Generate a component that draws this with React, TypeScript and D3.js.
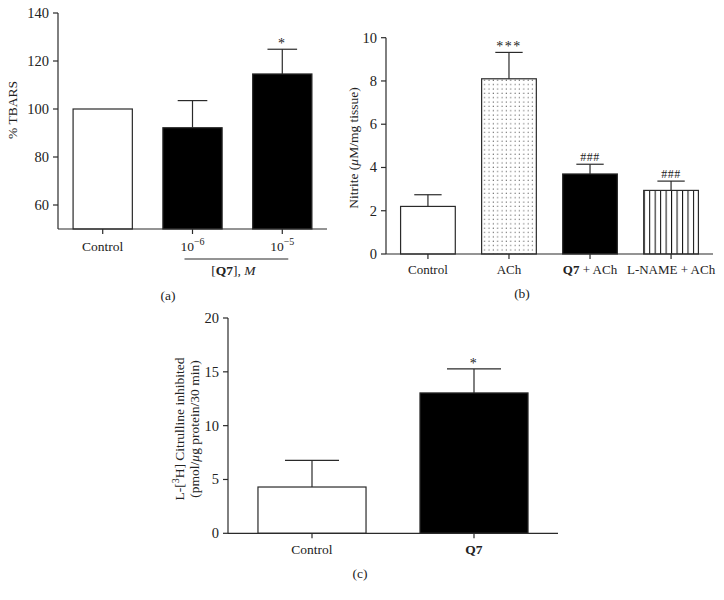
import React from "react";
import * as d3 from "d3";

// ---------- data ----------
const aCategories = ["Control", "1e-6", "1e-5"];
const aValues = [100, 92.2, 114.6];
const aErrors = [0, 11.3, 10.3];
const aSig = ["", "", "*"];
const aTicks = [60, 80, 100, 120, 140];

const bCategories = ["Control", "ACh", "Q7 + ACh", "L-NAME + ACh"];
const bValues = [2.2, 8.1, 3.7, 2.94];
const bErrors = [0.54, 1.22, 0.45, 0.43];
const bSig = ["", "***", "###", "###"];
const bTicks = [0, 2, 4, 6, 8, 10];

const cCategories = ["Control", "Q7"];
const cValues = [4.3, 13.04];
const cErrors = [2.48, 2.23];
const cSig = ["", "*"];
const cTicks = [0, 5, 10, 15, 20];

const FONT = "'Liberation Serif', 'Times New Roman', serif";
const LINE = "#2a2a2a";
const FS = 13.5;
const TFS = 14.5;

type Cfg = {
  cats: string[];
  vals: number[];
  errs: number[];
  sig: string[];
  ticks: number[];
  x0: number;
  x1: number;
  yTop: number;
  yBot: number;
  dom: [number, number];
  pIn: number;
  pOut: number;
  fills: string[];
  labelY: number;
  labelFs: number;
  renderLabel: (c: string) => React.ReactNode;
};

function Panel({ cfg }: { cfg: Cfg }) {
  const x = d3
    .scaleBand<string>()
    .domain(cfg.cats)
    .range([cfg.x0, cfg.x1])
    .paddingInner(cfg.pIn)
    .paddingOuter(cfg.pOut);
  const y = d3.scaleLinear().domain(cfg.dom).range([cfg.yBot, cfg.yTop]);
  const bw = x.bandwidth();
  return (
    <g>
      {cfg.cats.map((c, i) => (
        <rect
          key={"b" + c}
          x={x(c)!}
          y={y(cfg.vals[i])}
          width={bw}
          height={y(cfg.dom[0]) - y(cfg.vals[i])}
          fill={cfg.fills[i]}
          stroke={LINE}
          strokeWidth={1.2}
        />
      ))}
      {cfg.cats.map((c, i) => {
        if (!cfg.errs[i]) return null;
        const cx = x(c)! + bw / 2;
        const top = y(cfg.vals[i] + cfg.errs[i]);
        return (
          <g key={"e" + c} stroke={LINE} strokeWidth={1.2}>
            <line x1={cx} x2={cx} y1={y(cfg.vals[i])} y2={top} />
            <line x1={cx - bw / 4} x2={cx + bw / 4} y1={top} y2={top} />
          </g>
        );
      })}
      {cfg.cats.map((c, i) => {
        if (!cfg.sig[i]) return null;
        const cx = x(c)! + bw / 2;
        const top = y(cfg.vals[i] + (cfg.errs[i] || 0));
        const isStar = cfg.sig[i].startsWith("*");
        return (
          <text
            key={"s" + c}
            x={cx}
            y={isStar ? top - 1 : top - 3}
            textAnchor="middle"
            fontFamily={FONT}
            fontSize={isStar ? 14 : 12}
            letterSpacing={isStar ? 1.5 : 0.5}
            fill="#222"
          >
            {cfg.sig[i]}
          </text>
        );
      })}
      <line x1={cfg.x0} x2={cfg.x0} y1={cfg.yTop} y2={cfg.yBot} stroke={LINE} strokeWidth={1.2} />
      {cfg.ticks.map((t) => (
        <g key={"t" + t}>
          <line x1={cfg.x0 - 5} x2={cfg.x0} y1={y(t)} y2={y(t)} stroke={LINE} strokeWidth={1.2} />
          <text
            x={cfg.x0 - 9}
            y={y(t) + 5}
            textAnchor="end"
            fontFamily={FONT}
            fontSize={TFS}
            fill="#222"
          >
            {t}
          </text>
        </g>
      ))}
      <line x1={cfg.x0} x2={cfg.x1} y1={cfg.yBot} y2={cfg.yBot} stroke={LINE} strokeWidth={1.2} />
      {cfg.cats.map((c) => {
        const cx = x(c)! + bw / 2;
        return (
          <g key={"x" + c}>
            <line x1={cx} x2={cx} y1={cfg.yBot} y2={cfg.yBot + 5} stroke={LINE} strokeWidth={1.2} />
            <text
              x={cx}
              y={cfg.labelY}
              textAnchor="middle"
              fontFamily={FONT}
              fontSize={cfg.labelFs}
              fill="#222"
            >
              {cfg.renderLabel(c)}
            </text>
          </g>
        );
      })}
    </g>
  );
}

function expLabel(c: string) {
  if (c.startsWith("1e")) {
    const e = c.slice(2).replace("-", "\u2212");
    return (
      <>
        10
        <tspan dy={-6} fontSize={10}>
          {e}
        </tspan>
      </>
    );
  }
  return c;
}

function boldQ7Label(c: string) {
  if (c.startsWith("Q7")) {
    return (
      <>
        <tspan fontWeight="bold">Q7</tspan>
        {c.slice(2)}
      </>
    );
  }
  return c;
}

export default function App() {
  const cfgA: Cfg = {
    cats: aCategories,
    vals: aValues,
    errs: aErrors,
    sig: aSig,
    ticks: aTicks,
    x0: 58,
    x1: 327,
    yTop: 13,
    yBot: 229,
    dom: [50, 140],
    pIn: 0.34,
    pOut: 0.168,
    fills: ["#fff", "#000", "#000"],
    labelY: 251,
    labelFs: FS,
    renderLabel: expLabel,
  };
  const cfgB: Cfg = {
    cats: bCategories,
    vals: bValues,
    errs: bErrors,
    sig: bSig,
    ticks: bTicks,
    x0: 386,
    x1: 713,
    yTop: 37.7,
    yBot: 254,
    dom: [0, 10],
    pIn: 0.325,
    pOut: 0.18,
    fills: ["#fff", "url(#dots)", "#000", "url(#vstripes)"],
    labelY: 274,
    labelFs: 13,
    renderLabel: boldQ7Label,
  };
  const cfgC: Cfg = {
    cats: cCategories,
    vals: cValues,
    errs: cErrors,
    sig: cSig,
    ticks: cTicks,
    x0: 228,
    x1: 558,
    yTop: 318,
    yBot: 533.3,
    dom: [0, 20],
    pIn: 0.333,
    pOut: 0.185,
    fills: ["#fff", "#000"],
    labelY: 554,
    labelFs: FS,
    renderLabel: boldQ7Label,
  };

  const xb = d3
    .scaleBand<string>()
    .domain(bCategories)
    .range([cfgB.x0, cfgB.x1])
    .paddingInner(cfgB.pIn)
    .paddingOuter(cfgB.pOut);
  const stripeX = xb("L-NAME + ACh")!;
  const stripeStep = xb.bandwidth() / 10;
  const dotsX = xb("ACh")!;

  const xa = d3
    .scaleBand<string>()
    .domain(aCategories)
    .range([cfgA.x0, cfgA.x1])
    .paddingInner(cfgA.pIn)
    .paddingOuter(cfgA.pOut);
  const c2 = xa(aCategories[1])! + xa.bandwidth() / 2;
  const c3 = xa(aCategories[2])! + xa.bandwidth() / 2;

  return (
    <svg
      width={724}
      height={600}
      style={{ position: "absolute", left: 0, top: 0, background: "#fff" }}
    >
      <defs>
        <pattern id="dots" patternUnits="userSpaceOnUse" x={dotsX + 1} y={0} width={4.35} height={4.35}>
          <rect width={4.35} height={4.35} fill="#fff" />
          <circle cx={2} cy={2} r={0.6} fill="#555" />
        </pattern>
        <pattern
          id="vstripes"
          patternUnits="userSpaceOnUse"
          x={stripeX}
          y={0}
          width={stripeStep}
          height={10}
        >
          <rect width={stripeStep} height={10} fill="#fff" />
          <line x1={0.5} x2={0.5} y1={0} y2={10} stroke="#111" strokeWidth={1.1} />
        </pattern>
      </defs>
      <rect width={724} height={600} fill="#fff" />

      {/* Panel a */}
      <Panel cfg={cfgA} />
      <line x1={c2 - 8} x2={c3 + 6} y1={259} y2={259} stroke={LINE} strokeWidth={1.2} />
      <text x={(c2 + c3) / 2 - 4} y={275} textAnchor="middle" fontFamily={FONT} fontSize={FS} fill="#222">
        [<tspan fontWeight="bold">Q7</tspan>], <tspan fontStyle="italic">M</tspan>
      </text>
      <text
        transform="translate(17,110) rotate(-90)"
        textAnchor="middle"
        fontFamily={FONT}
        fontSize={FS}
        fill="#222"
      >
        % TBARS
      </text>
      <text x={168} y={300} textAnchor="middle" fontFamily={FONT} fontSize={FS} fill="#222">
        (a)
      </text>

      {/* Panel b */}
      <Panel cfg={cfgB} />
      <text
        transform="translate(358,148) rotate(-90)"
        textAnchor="middle"
        fontFamily={FONT}
        fontSize={FS}
        fill="#222"
      >
        Nitrite (<tspan fontStyle="italic">μ</tspan>M/mg tissue)
      </text>
      <text x={522} y={298} textAnchor="middle" fontFamily={FONT} fontSize={FS} fill="#222">
        (b)
      </text>

      {/* Panel c */}
      <Panel cfg={cfgC} />
      <text
        transform="translate(184,429) rotate(-90)"
        textAnchor="middle"
        fontFamily={FONT}
        fontSize={FS}
        fill="#222"
      >
        L-[
        <tspan dy={-5} fontSize={10}>
          3
        </tspan>
        <tspan dy={5}>H] Citrulline inhibited</tspan>
      </text>
      <text
        transform="translate(199,429) rotate(-90)"
        textAnchor="middle"
        fontFamily={FONT}
        fontSize={FS}
        fill="#222"
      >
        (pmol/<tspan fontStyle="italic">μ</tspan>g protein/30 min)
      </text>
      <text x={360} y={578} textAnchor="middle" fontFamily={FONT} fontSize={FS} fill="#222">
        (c)
      </text>
    </svg>
  );
}
